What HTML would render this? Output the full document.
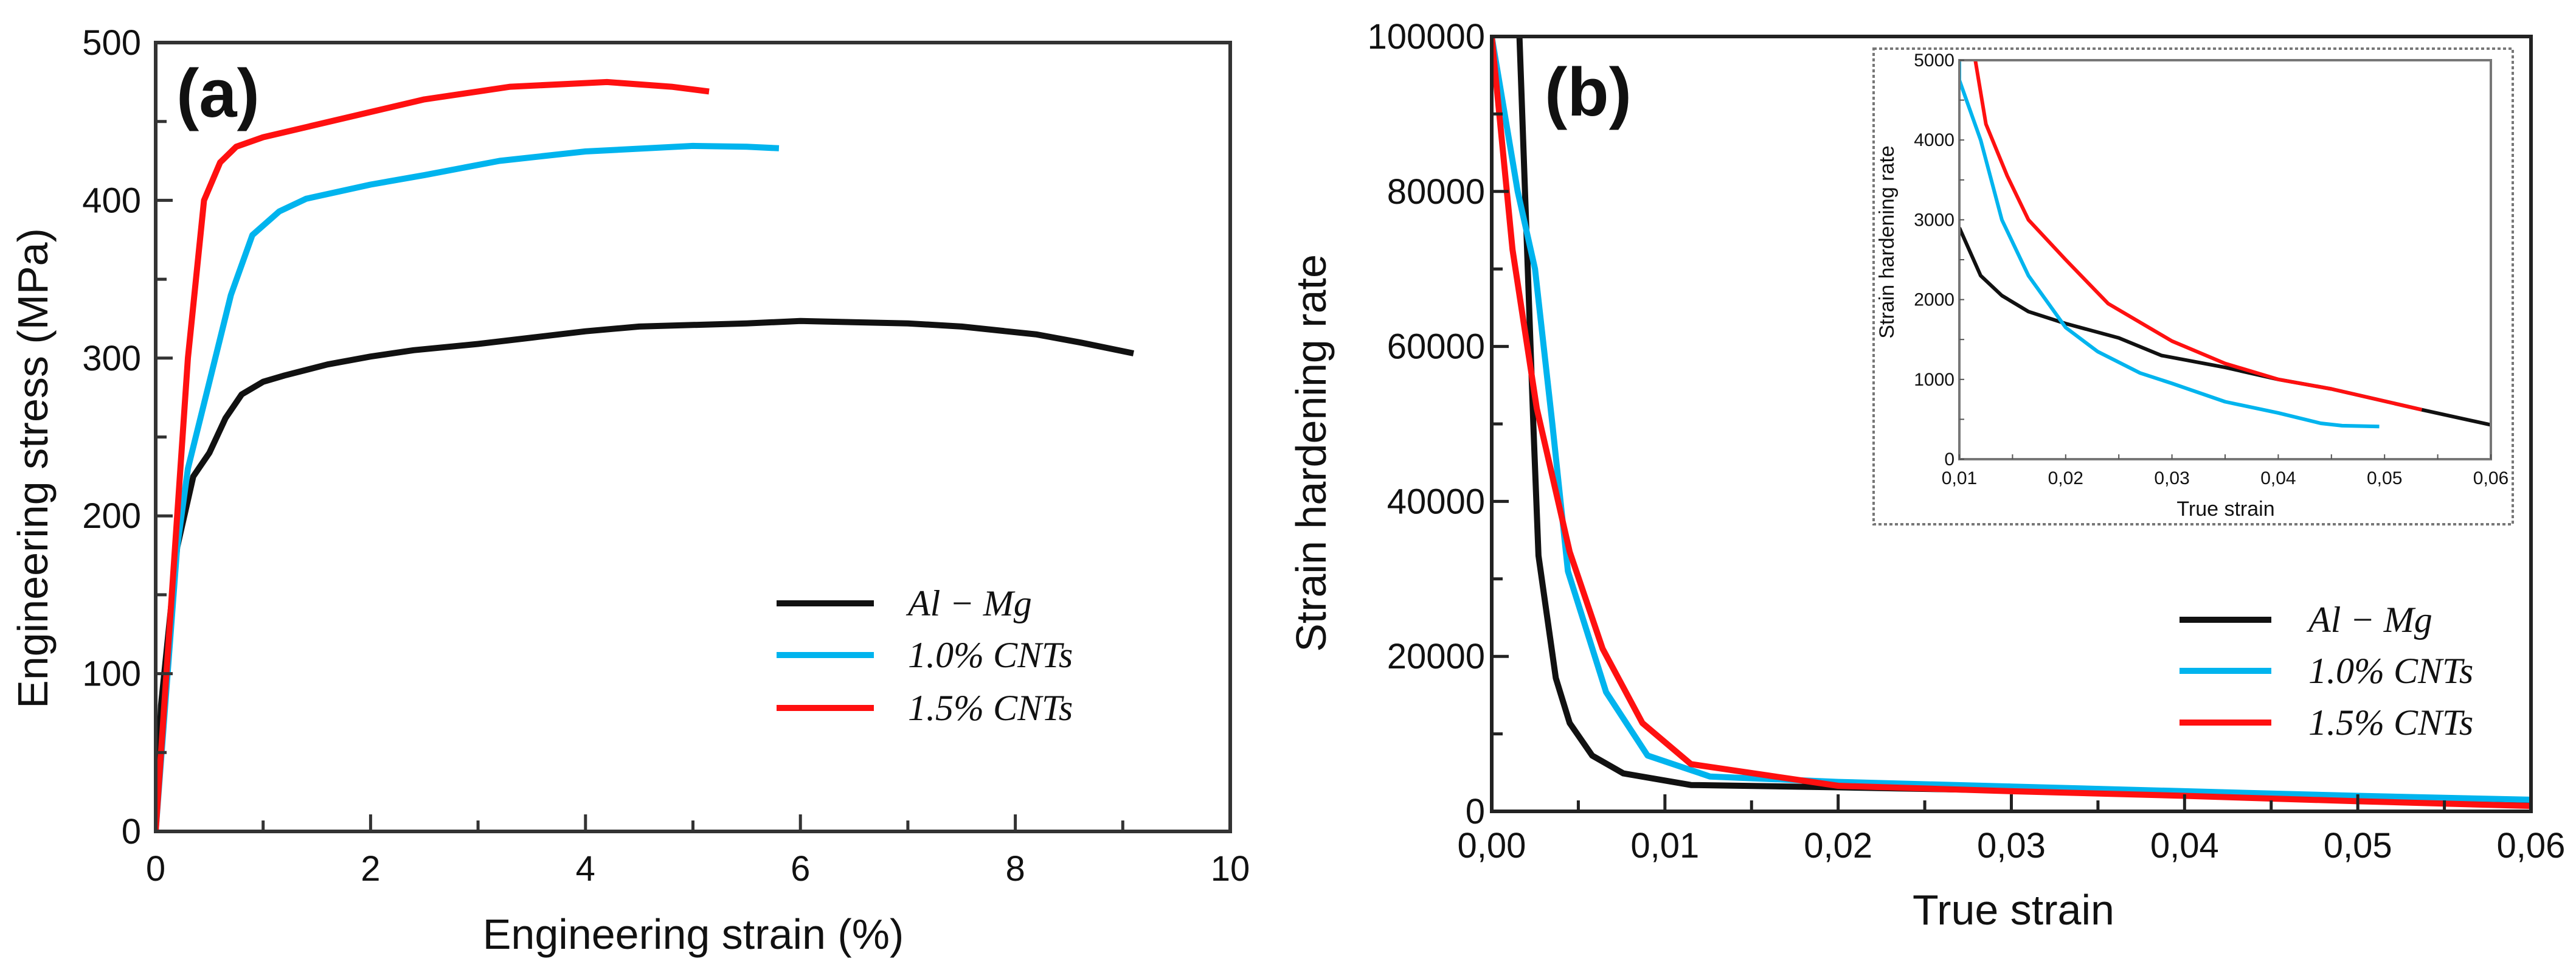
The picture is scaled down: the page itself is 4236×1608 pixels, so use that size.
<!DOCTYPE html>
<html><head><meta charset="utf-8"><style>
html,body{margin:0;padding:0;background:#fff;}
svg{display:block;}
text{font-family:"Liberation Sans",sans-serif;fill:#111;}
.math{font-family:"Liberation Serif",serif;font-style:italic;}
</style></head><body>
<svg id="fig" width="4236" height="1608" viewBox="0 0 4236 1608" xmlns="http://www.w3.org/2000/svg"></svg>
<script>
// ---- Panel (a) data: engineering strain (%) vs stress (MPa)
const aAlMgX = [0,0.05,0.2,0.35,0.5,0.65,0.8,1,1.2,1.6,2,2.4,3,3.5,4,4.5,5,5.5,6,7,7.5,8.2,8.6,9.1];
const aAlMgY = [0,80,180,225,240,262,277,285,289,296,301,305,309,313,317,320,321,322,323.5,322,320,315,310,303];
const a10X = [0,0.2,0.3,0.5,0.7,0.9,1.15,1.4,2,2.5,3.2,4,5,5.5,5.8];
const a10Y = [0,180,230,285,340,378,393,401,410,416,425,431,434.5,434,433];
const a15X = [0,0.15,0.3,0.45,0.6,0.75,1,1.5,2,2.5,3,3.3,4.2,4.8,5.15];
const a15Y = [0,150,300,400,424,434,440,448,456,464,469,472,475,472,469];
const aXTicks = [0,2,4,6,8,10];
const aYTicks = [0,100,200,300,400,500];
// ---- Panel (b) data: true strain vs strain hardening rate
const bAlMgX = [0.0016,0.002,0.0024,0.0027,0.0037,0.0045,0.0058,0.0076,0.0115,0.02,0.03,0.04,0.05,0.06];
const bAlMgY = [100000,75000,50000,33000,17200,11400,7200,4900,3400,3100,2700,2200,1500,1000];
const b10X = [0,0.0015,0.0025,0.0035,0.0044,0.0066,0.009,0.0126,0.02,0.03,0.04,0.05,0.06];
const b10Y = [100000,80000,70000,50000,31000,15400,7200,4500,3800,3200,2600,2000,1500];
const b15X = [0,0.0012,0.0026,0.0045,0.0064,0.0087,0.0115,0.02,0.03,0.04,0.05,0.06];
const b15Y = [100000,72500,52000,33500,21000,11400,6100,3300,2600,2000,1300,700];
const bXTicks = [0,0.01,0.02,0.03,0.04,0.05,0.06];
const bXLabels = ["0,00","0,01","0,02","0,03","0,04","0,05","0,06"];
const bYTicks = [0,20000,40000,60000,80000,100000];
// ---- Inset data
const iAlMgX = [0.01,0.012,0.014,0.0165,0.02,0.025,0.029,0.035,0.04,0.045,0.0535,0.06];
const iAlMgY = [2900,2300,2050,1850,1700,1520,1300,1150,1000,880,620,430];
const i10X = [0.01,0.01,0.012,0.014,0.0165,0.02,0.023,0.027,0.03,0.035,0.04,0.044,0.046,0.0495];
const i10Y = [5000,4750,4000,3000,2300,1650,1350,1080,950,720,580,450,420,410];
const i15X = [0.0115,0.0125,0.0145,0.0165,0.02,0.024,0.03,0.035,0.04,0.045,0.0535];
const i15Y = [5000,4200,3550,3000,2500,1950,1480,1200,1000,880,620];
const iXTicks = [0.01,0.02,0.03,0.04,0.05,0.06];
const iXLabels = ["0,01","0,02","0,03","0,04","0,05","0,06"];
const iYTicks = [0,1000,2000,3000,4000,5000];

const NS="http://www.w3.org/2000/svg";
const svg=document.getElementById('fig');
function mk(tag,attrs,parent){const e=document.createElementNS(NS,tag);for(const k in attrs)e.setAttribute(k,attrs[k]);(parent||svg).appendChild(e);return e;}
function txt(s,attrs,parent){const e=mk('text',attrs,parent);e.textContent=s;return e;}
function scale(d0,d1,r0,r1){return v=>r0+(v-d0)/(d1-d0)*(r1-r0);}
function series(xs,ys,sx,sy,color,w,name,parent){
  const p=xs.map((x,i)=>sx(x).toFixed(1)+','+sy(ys[i]).toFixed(1)).join(' ');
  const e=mk('polyline',{points:p,fill:'none',stroke:color,'stroke-width':w,'stroke-linejoin':'round','stroke-linecap':'butt'},parent);
  
  
  return e;
}
const BLK='#111',CY='#00b4ee',RD='#ff1010';

// ================= Panel (a)
const ga=mk('g',{});


const ax=scale(0,10,256,2023), ay=scale(0,500,1367,70);
let clip=mk('clipPath',{id:'ca'});mk('rect',{x:256,y:70,width:1767,height:1297},clip);
const gs=mk('g',{'clip-path':'url(#ca)'},ga);
series(aAlMgX,aAlMgY,ax,ay,BLK,10,'series-al-mg',gs);
series(a10X,a10Y,ax,ay,CY,10,'series-1-0-cnts',gs);
series(a15X,a15Y,ax,ay,RD,10,'series-1-5-cnts',gs);
let fr=mk('rect',{x:256,y:70,width:1767,height:1297,fill:'none',stroke:'#333','stroke-width':6},ga);


for(let v=0;v<=10;v+=1){const x=ax(v);mk('line',{x1:x,y1:1367,x2:x,y2:1367-(v%2?18:28),stroke:'#333','stroke-width':5},ga);}
for(let v=0;v<=500;v+=50){const y=ay(v);mk('line',{x1:256,y1:y,x2:256+(v%100?18:28),y2:y,stroke:'#333','stroke-width':5},ga);}
aXTicks.forEach(v=>{const t=txt(String(v),{x:ax(v),y:1448,'font-size':58,'text-anchor':'middle'},ga);});
aYTicks.forEach(v=>{const t=txt(String(v),{x:232,y:ay(v)+20,'font-size':58,'text-anchor':'end'},ga);});
let t=txt('Engineering strain (%)',{x:1140,y:1560,'font-size':70,'text-anchor':'middle'},ga);

t=txt('Engineering stress (MPa)',{x:0,y:0,'font-size':70,'text-anchor':'middle',transform:'translate(78,770) rotate(-90)'},ga);

t=txt('(a)',{x:290,y:192,'font-size':112,'font-weight':'bold'},ga);

// legend a
const la=[['Al − Mg',BLK,992],['1.0% CNTs',CY,1077],['1.5% CNTs',RD,1164]];
la.forEach((L,i)=>{
  const l=mk('line',{x1:1277,y1:L[2],x2:1437,y2:L[2],stroke:L[1],'stroke-width':10},ga);
  
  const tt=txt(L[0],{x:1493,y:L[2]+20,'font-size':60,class:'math'},ga);
  
});

// ================= Panel (b)
const gb=mk('g',{});


const bx=scale(0,0.06,2453,4162), by=scale(0,100000,1334,60);
clip=mk('clipPath',{id:'cb'});mk('rect',{x:2453,y:60,width:1709,height:1274},clip);
const gbs=mk('g',{'clip-path':'url(#cb)'},gb);
series(bAlMgX,bAlMgY,bx,by,BLK,10,'series-al-mg-b',gbs);
series(b10X,b10Y,bx,by,CY,10,'series-1-0-cnts-b',gbs);
series(b15X,b15Y,bx,by,RD,10,'series-1-5-cnts-b',gbs);
fr=mk('rect',{x:2453,y:60,width:1709,height:1274,fill:'none',stroke:'#222','stroke-width':6},gb);

for(let k=0;k<=12;k++){const x=bx(k*0.005);mk('line',{x1:x,y1:1334,x2:x,y2:1334-(k%2?18:28),stroke:'#222','stroke-width':5},gb);}
for(let k=0;k<=10;k++){const y=by(k*10000);mk('line',{x1:2453,y1:y,x2:2453+(k%2?18:28),y2:y,stroke:'#222','stroke-width':5},gb);}
bXTicks.forEach((v,i)=>{const tt=txt(bXLabels[i],{x:bx(v),y:1410,'font-size':58,'text-anchor':'middle'},gb);});
bYTicks.forEach(v=>{const tt=txt(String(v),{x:2442,y:by(v)+20,'font-size':58,'text-anchor':'end'},gb);});
t=txt('True strain',{x:3311,y:1520,'font-size':70,'text-anchor':'middle'},gb);

t=txt('Strain hardening rate',{x:0,y:0,'font-size':70,'text-anchor':'middle',transform:'translate(2180,745) rotate(-90)'},gb);

t=txt('(b)',{x:2540,y:190,'font-size':112,'font-weight':'bold'},gb);

const lb=[['Al − Mg',BLK,1019],['1.0% CNTs',CY,1103],['1.5% CNTs',RD,1188]];
lb.forEach(L=>{
  const l=mk('line',{x1:3584,y1:L[2],x2:3735,y2:L[2],stroke:L[1],'stroke-width':10},gb);
  
  const tt=txt(L[0],{x:3796,y:L[2]+20,'font-size':60,class:'math'},gb);
  
});

// ================= Inset
const gi=mk('g',{});


let ib=mk('rect',{x:3081,y:80,width:1051,height:782,fill:'#fff',stroke:'#777','stroke-width':4,'stroke-dasharray':'5,4'},gi);

const ix=scale(0.01,0.06,3222,4096), iy=scale(0,5000,755,99);
clip=mk('clipPath',{id:'ci'});mk('rect',{x:3222,y:99,width:874,height:656},clip);
const gis=mk('g',{'clip-path':'url(#ci)'},gi);
series(iAlMgX,iAlMgY,ix,iy,BLK,6,'inset-series-al-mg',gis);
series(i10X,i10Y,ix,iy,CY,6,'inset-series-1-0-cnts',gis);
series(i15X,i15Y,ix,iy,RD,6,'inset-series-1-5-cnts',gis);
fr=mk('rect',{x:3222,y:99,width:874,height:656,fill:'none',stroke:'#777','stroke-width':4},gi);

for(let k=0;k<=10;k++){const x=ix(0.01+k*0.005);mk('line',{x1:x,y1:755,x2:x,y2:747,stroke:'#555','stroke-width':2},gi);}
for(let k=0;k<=10;k++){const y=iy(k*500);mk('line',{x1:3222,y1:y,x2:3230,y2:y,stroke:'#555','stroke-width':2},gi);}
iXTicks.forEach((v,i)=>{const tt=txt(iXLabels[i],{x:ix(v),y:796,'font-size':30,'text-anchor':'middle',fill:'#444'},gi);});
iYTicks.forEach(v=>{const tt=txt(String(v),{x:3214,y:iy(v)+10,'font-size':30,'text-anchor':'end',fill:'#444'},gi);});
t=txt('True strain',{x:3660,y:848,'font-size':34,'text-anchor':'middle',fill:'#444'},gi);

t=txt('Strain hardening rate',{x:0,y:0,'font-size':34,'text-anchor':'middle',fill:'#444',transform:'translate(3114,398) rotate(-90)'},gi);

</script>
</body></html>
